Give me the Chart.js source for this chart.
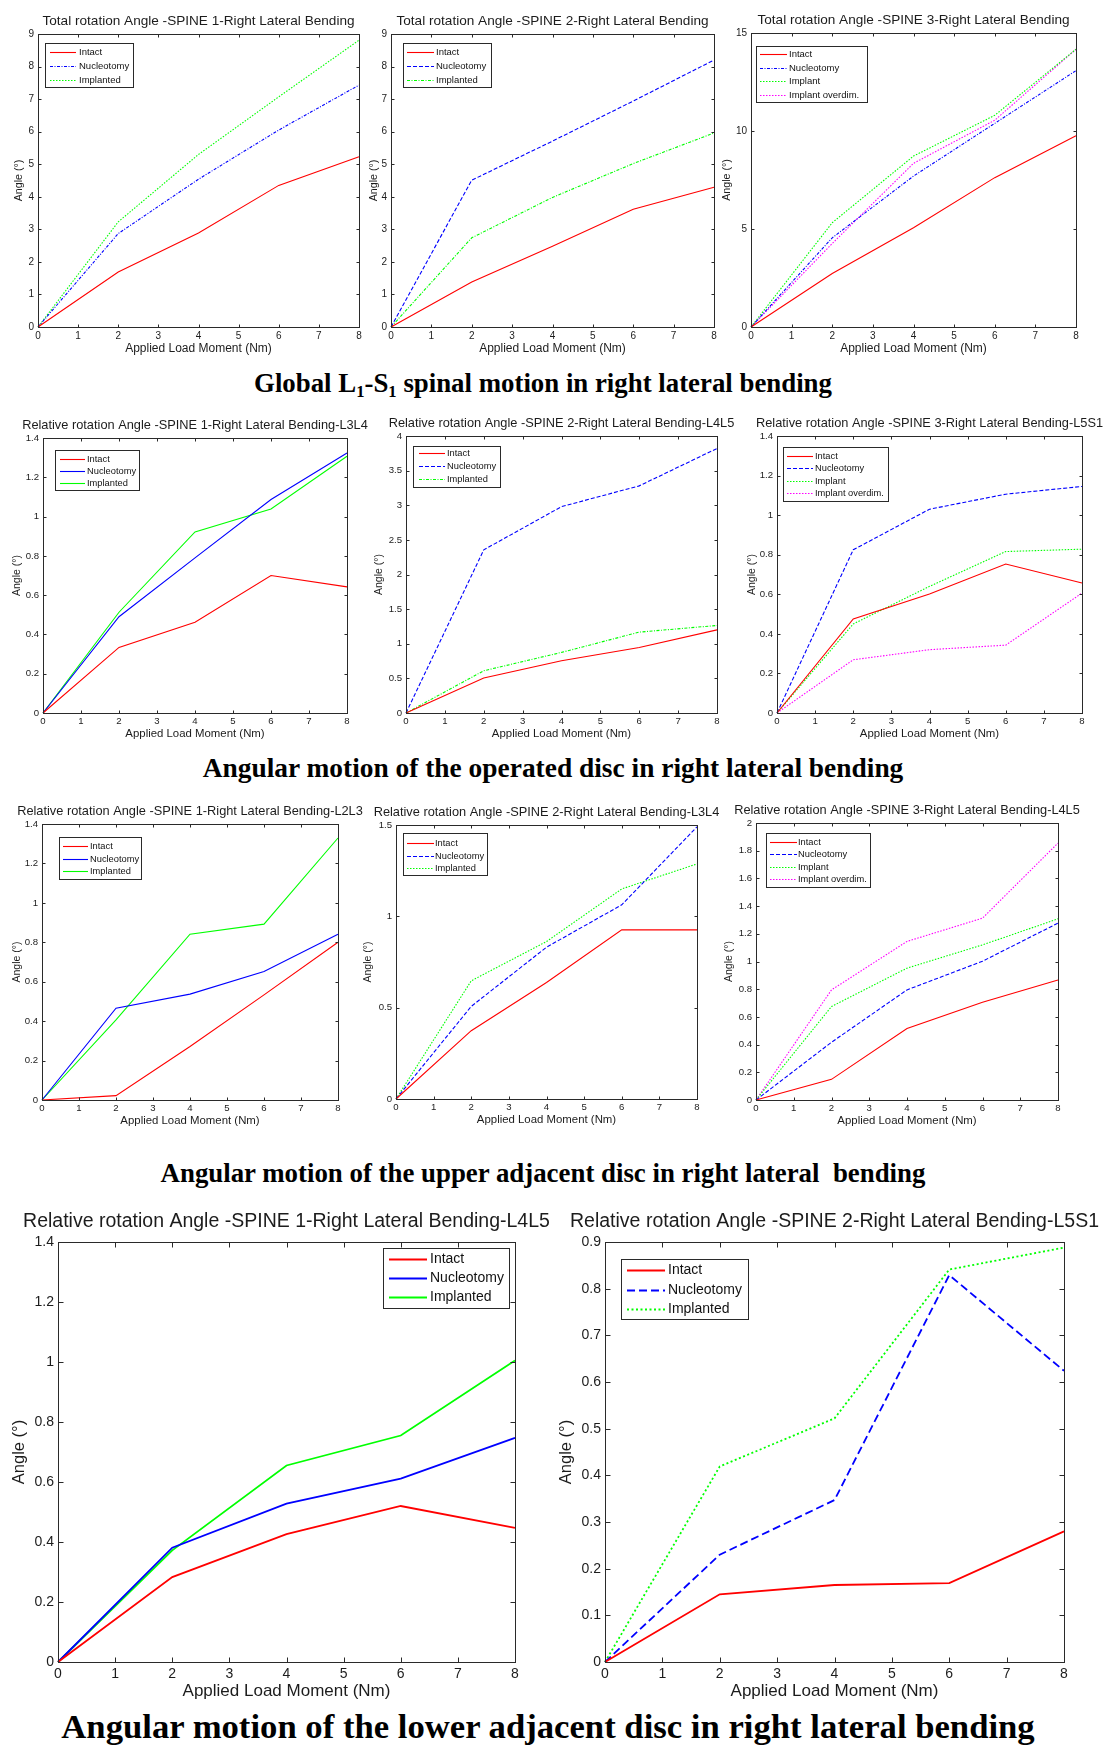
<!DOCTYPE html>
<html><head><meta charset="utf-8">
<script src="https://cdn.jsdelivr.net/npm/chart.js@4.4.1/dist/chart.umd.min.js"></script>
<style>
html,body{margin:0;padding:0;background:#fff}
body{position:relative;width:1105px;height:1745px;overflow:hidden}
canvas{position:absolute}
.cap{position:absolute;font-family:"Liberation Serif","Times New Roman",serif;font-weight:bold;white-space:pre;color:#000;line-height:1;transform:translate(-50%,-50%)}
.cap sub{font-size:0.62em;vertical-align:-0.3em;line-height:0}
</style></head><body>
<div class="cap" data-w="578" style="left:543px;top:383px">Global L<sub>1</sub>-S<sub>1</sub> spinal motion in right lateral bending</div>
<div class="cap" data-w="701" style="left:553px;top:769px">Angular motion of the operated disc in right lateral bending</div>
<div class="cap" data-w="765" style="left:543px;top:1173px">Angular motion of the upper adjacent disc in right lateral  bending</div>
<div class="cap" data-w="974" style="left:548px;top:1727px">Angular motion of the lower adjacent disc in right lateral bending</div>
<script>
// ---------- DATA ----------
const moment = [0, 2, 4, 6, 8];
const momentTicks = [0, 1, 2, 3, 4, 5, 6, 7, 8];
const momentTickLabels = ['0', '1', '2', '3', '4', '5', '6', '7', '8'];
const xTitle = 'Applied Load Moment (Nm)';
const yTitle = 'Angle (°)';

const yTicks9 = [0, 1, 2, 3, 4, 5, 6, 7, 8, 9];
const yLabels9 = ['0', '1', '2', '3', '4', '5', '6', '7', '8', '9'];
const yTicks15 = [0, 5, 10, 15];
const yLabels15 = ['0', '5', '10', '15'];
const yTicks1p4 = [0, 0.2, 0.4, 0.6, 0.8, 1, 1.2, 1.4];
const yLabels1p4 = ['0', '0.2', '0.4', '0.6', '0.8', '1', '1.2', '1.4'];
const yTicks4 = [0, 0.5, 1, 1.5, 2, 2.5, 3, 3.5, 4];
const yLabels4 = ['0', '0.5', '1', '1.5', '2', '2.5', '3', '3.5', '4'];
const yTicks1p5 = [0, 0.5, 1, 1.5];
const yLabels1p5 = ['0', '0.5', '1', '1.5'];
const yTicks2 = [0, 0.2, 0.4, 0.6, 0.8, 1, 1.2, 1.4, 1.6, 1.8, 2];
const yLabels2 = ['0', '0.2', '0.4', '0.6', '0.8', '1', '1.2', '1.4', '1.6', '1.8', '2'];
const yTicks0p9 = [0, 0.1, 0.2, 0.3, 0.4, 0.5, 0.6, 0.7, 0.8, 0.9];
const yLabels0p9 = ['0', '0.1', '0.2', '0.3', '0.4', '0.5', '0.6', '0.7', '0.8', '0.9'];

// Global L1-S1 (total rotation)
const totalS1Intact     = [0, 1.69, 2.89, 4.35, 5.23];
const totalS1Nucleotomy = [0, 2.87, 4.54, 6.05, 7.43];
const totalS1Implanted  = [0, 3.23, 5.30, 7.07, 8.81];
const totalS2Intact     = [0, 1.38, 2.48, 3.62, 4.29];
const totalS2Nucleotomy = [0, 4.51, 5.71, 6.94, 8.20];
const totalS2Implanted  = [0, 2.74, 3.98, 5.02, 5.96];
const totalS3Intact     = [0, 2.73, 5.06, 7.62, 9.76];
const totalS3Nucleotomy = [0, 4.55, 7.70, 10.39, 13.08];
const totalS3Implant    = [0, 5.32, 8.72, 10.80, 14.17];
const totalS3Overdim    = [0, 4.26, 8.35, 10.55, 14.17];

// Operated disc
const opS1Intact     = [0, 0.334, 0.462, 0.700, 0.642];
const opS1Nucleotomy = [0, 0.490, 0.790, 1.087, 1.324];
const opS1Implanted  = [0, 0.513, 0.922, 1.039, 1.307];
const opS2Intact     = [0, 0.505, 0.755, 0.947, 1.200];
const opS2Nucleotomy = [0, 2.356, 2.980, 3.280, 3.820];
const opS2Implanted  = [0, 0.610, 0.875, 1.168, 1.264];
const opS3Intact     = [0, 0.475, 0.601, 0.753, 0.657];
const opS3Nucleotomy = [0, 0.825, 1.030, 1.106, 1.145];
const opS3Implant    = [0, 0.450, 0.640, 0.816, 0.828];
const opS3Overdim    = [0, 0.269, 0.320, 0.343, 0.606];

// Upper adjacent disc
const upS1Intact     = [0, 0.022, 0.271, 0.533, 0.800];
const upS1Nucleotomy = [0, 0.466, 0.537, 0.652, 0.841];
const upS1Implanted  = [0, 0.406, 0.841, 0.892, 1.329];
const upS2Intact     = [0, 0.374, 0.638, 0.926, 0.926];
const upS2Nucleotomy = [0, 0.507, 0.831, 1.063, 1.490];
const upS2Implanted  = [0, 0.647, 0.862, 1.150, 1.287];
const upS3Intact     = [0, 0.149, 0.516, 0.706, 0.867];
const upS3Nucleotomy = [0, 0.417, 0.795, 1.002, 1.277];
const upS3Implant    = [0, 0.675, 0.952, 1.120, 1.308];
const upS3Overdim    = [0, 0.795, 1.145, 1.313, 1.855];

// Lower adjacent disc
const lowS1Intact     = [0, 0.283, 0.426, 0.520, 0.447];
const lowS1Nucleotomy = [0, 0.381, 0.528, 0.611, 0.747];
const lowS1Implanted  = [0, 0.372, 0.655, 0.755, 1.005];
const lowS2Intact     = [0, 0.145, 0.165, 0.169, 0.280];
const lowS2Nucleotomy = [0, 0.230, 0.347, 0.829, 0.624];
const lowS2Implanted  = [0, 0.419, 0.522, 0.841, 0.888];

// ---------- STYLES / LAYOUT ----------
const FF = '"Liberation Sans", Arial, Helvetica, sans-serif';
const RED = '#ff0000', BLUE = '#0000ff', GREEN = '#00ff00', MAG = '#ff00ff';
const SOLID = [], DASH = [4, 2], DOT = [1.5, 1.5], DASHDOT = [3, 1.5, 1, 1.5];

const row1 = {fTitle: 13.6, fLabel: 12, fY: 10.7, fTick: 10, tl: 3, lw: 1.1, oTitle: 13, oX: 22, xPad: 3, yPad: 4};
const row23 = {fTitle: 12.8, fLabel: 11.4, fY: 10.5, fTick: 9.6, tl: 3, lw: 1.1, oTitle: 13, oX: 21, xPad: 3, yPad: 4};
const row4 = {fTitle: 19.5, fLabel: 17, fY: 16.5, fTick: 14, tl: 5, lw: 1.8, oTitle: 20, oX: 29, xPad: 4, yPad: 4};

const specs = [
  {st: row1, title: 'Total rotation Angle -SPINE 1-Right Lateral Bending', plot: [38, 34, 359, 327], oY: 19,
   yMax: 9, yT: yTicks9, yL: yLabels9,
   legend: {x: 45, y: 43, w: 88, h: 44, row0: 52, dy: 14, l0: 5, l1: 31, tx: 34, font: 9.5},
   series: [['Intact', totalS1Intact, RED, SOLID], ['Nucleotomy', totalS1Nucleotomy, BLUE, DASHDOT], ['Implanted', totalS1Implanted, GREEN, DOT]]},
  {st: row1, title: 'Total rotation Angle -SPINE 2-Right Lateral Bending', plot: [391, 34, 714, 327], oY: 17,
   yMax: 9, yT: yTicks9, yL: yLabels9,
   legend: {x: 403, y: 43, w: 88, h: 44, row0: 52, dy: 14, l0: 4, l1: 31, tx: 33, font: 9.5},
   series: [['Intact', totalS2Intact, RED, SOLID], ['Nucleotomy', totalS2Nucleotomy, BLUE, DASH], ['Implanted', totalS2Implanted, GREEN, DASHDOT]]},
  {st: row1, title: 'Total rotation Angle -SPINE 3-Right Lateral Bending', plot: [751, 33, 1076, 327], oY: 24,
   yMax: 15, yT: yTicks15, yL: yLabels15,
   legend: {x: 756, y: 46, w: 111, h: 56, row0: 54, dy: 13.5, l0: 4, l1: 31, tx: 33, font: 9.5},
   series: [['Intact', totalS3Intact, RED, SOLID], ['Nucleotomy', totalS3Nucleotomy, BLUE, DASHDOT], ['Implant', totalS3Implant, GREEN, DOT], ['Implant overdim.', totalS3Overdim, MAG, DOT]]},

  {st: row23, title: 'Relative rotation Angle -SPINE 1-Right Lateral Bending-L3L4', plot: [43, 438, 347, 713], oY: 26,
   yMax: 1.4, yT: yTicks1p4, yL: yLabels1p4,
   legend: {x: 55, y: 450, w: 84, h: 40, row0: 459, dy: 12.2, l0: 5, l1: 30, tx: 32, font: 9.3},
   series: [['Intact', opS1Intact, RED, SOLID], ['Nucleotomy', opS1Nucleotomy, BLUE, SOLID], ['Implanted', opS1Implanted, GREEN, SOLID]]},
  {st: row23, title: 'Relative rotation Angle -SPINE 2-Right Lateral Bending-L4L5', plot: [406, 436, 717, 713], oY: 27,
   yMax: 4, yT: yTicks4, yL: yLabels4,
   legend: {x: 413, y: 446, w: 87, h: 41, row0: 453, dy: 13, l0: 6, l1: 32, tx: 34, font: 9.3},
   series: [['Intact', opS2Intact, RED, SOLID], ['Nucleotomy', opS2Nucleotomy, BLUE, DASH], ['Implanted', opS2Implanted, GREEN, DASHDOT]]},
  {st: row23, title: 'Relative rotation Angle -SPINE 3-Right Lateral Bending-L5S1', plot: [777, 436, 1082, 713], oY: 25,
   yMax: 1.4, yT: yTicks1p4, yL: yLabels1p4,
   legend: {x: 783, y: 447, w: 105, h: 54, row0: 456, dy: 12.4, l0: 4, l1: 30, tx: 32, font: 9.3},
   series: [['Intact', opS3Intact, RED, SOLID], ['Nucleotomy', opS3Nucleotomy, BLUE, DASH], ['Implant', opS3Implant, GREEN, DOT], ['Implant overdim.', opS3Overdim, MAG, DOT]]},

  {st: row23, title: 'Relative rotation Angle -SPINE 1-Right Lateral Bending-L2L3', plot: [42, 824, 338, 1100], oY: 25,
   yMax: 1.4, yT: yTicks1p4, yL: yLabels1p4,
   legend: {x: 59, y: 837, w: 82, h: 42, row0: 846, dy: 12.5, l0: 4, l1: 29, tx: 31, font: 9.3},
   series: [['Intact', upS1Intact, RED, SOLID], ['Nucleotomy', upS1Nucleotomy, BLUE, SOLID], ['Implanted', upS1Implanted, GREEN, SOLID]]},
  {st: row23, title: 'Relative rotation Angle -SPINE 2-Right Lateral Bending-L3L4', plot: [396, 825, 697, 1099], oY: 28,
   yMax: 1.5, yT: yTicks1p5, yL: yLabels1p5,
   legend: {x: 403, y: 833, w: 84, h: 42, row0: 843, dy: 12.5, l0: 4, l1: 31, tx: 32, font: 9.3},
   series: [['Intact', upS2Intact, RED, SOLID], ['Nucleotomy', upS2Nucleotomy, BLUE, DASH], ['Implanted', upS2Implanted, GREEN, DOT]]},
  {st: row23, title: 'Relative rotation Angle -SPINE 3-Right Lateral Bending-L4L5', plot: [756, 823, 1058, 1100], oY: 27,
   yMax: 2, yT: yTicks2, yL: yLabels2,
   legend: {x: 766, y: 833, w: 104, h: 54, row0: 842, dy: 12.3, l0: 4, l1: 31, tx: 32, font: 9.3},
   series: [['Intact', upS3Intact, RED, SOLID], ['Nucleotomy', upS3Nucleotomy, BLUE, DASH], ['Implant', upS3Implant, GREEN, DOT], ['Implant overdim.', upS3Overdim, MAG, DOT]]},

  {st: row4, title: 'Relative rotation Angle -SPINE 1-Right Lateral Bending-L4L5', plot: [58, 1242, 515, 1662], oY: 39,
   yMax: 1.4, yT: yTicks1p4, yL: yLabels1p4,
   legend: {x: 383, y: 1248, w: 126, h: 60, row0: 1259, dy: 19, l0: 6, l1: 44, tx: 47, font: 14},
   series: [['Intact', lowS1Intact, RED, SOLID], ['Nucleotomy', lowS1Nucleotomy, BLUE, SOLID], ['Implanted', lowS1Implanted, GREEN, SOLID]]},
  {st: row4, title: 'Relative rotation Angle -SPINE 2-Right Lateral Bending-L5S1', plot: [605, 1242, 1064, 1662], oY: 39,
   yMax: 0.9, yT: yTicks0p9, yL: yLabels0p9,
   legend: {x: 621, y: 1259, w: 127, h: 60, row0: 1270, dy: 19.5, l0: 6, l1: 44, tx: 47, font: 14},
   series: [['Intact', lowS2Intact, RED, SOLID], ['Nucleotomy', lowS2Nucleotomy, BLUE, [8, 4]], ['Implanted', lowS2Implanted, GREEN, [2, 2.5]]]}
];

// ---------- DRAWING ----------
function framePlugin(sp, ox, oy) {
  const st = sp.st;
  return {
    id: 'matlabFrame',
    afterDraw(chart) {
      const ctx = chart.ctx, a = chart.chartArea, xs = chart.scales.x, ys = chart.scales.y;
      ctx.save();
      ctx.strokeStyle = '#2a2a2a'; ctx.lineWidth = 1; ctx.setLineDash([]);
      const l = Math.round(a.left) + 0.5, r = Math.round(a.right) + 0.5, t = Math.round(a.top) + 0.5, b = Math.round(a.bottom) + 0.5;
      ctx.strokeRect(l, t, r - l, b - t);
      ctx.beginPath();
      xs.ticks.forEach(tk => { const p = Math.round(xs.getPixelForValue(tk.value)) + 0.5;
        ctx.moveTo(p, b); ctx.lineTo(p, b - st.tl); ctx.moveTo(p, t); ctx.lineTo(p, t + st.tl); });
      ys.ticks.forEach(tk => { const p = Math.round(ys.getPixelForValue(tk.value)) + 0.5;
        ctx.moveTo(l, p); ctx.lineTo(l + st.tl, p); ctx.moveTo(r, p); ctx.lineTo(r - st.tl, p); });
      ctx.stroke();
      ctx.fillStyle = '#1c1c1c'; ctx.textAlign = 'center'; ctx.textBaseline = 'middle';
      ctx.font = st.fTitle + 'px ' + FF;
      ctx.fillText(sp.title, (a.left + a.right) / 2, a.top - st.oTitle);
      ctx.font = st.fLabel + 'px ' + FF;
      ctx.fillText(xTitle, (a.left + a.right) / 2, a.bottom + st.oX);
      ctx.save();
      ctx.translate(a.left - sp.oY, (a.top + a.bottom) / 2); ctx.rotate(-Math.PI / 2);
      ctx.font = st.fY + 'px ' + FF; ctx.fillText(yTitle, 0, 0);
      ctx.restore();
      // legend
      const lg = sp.legend, bx = lg.x - ox, by = lg.y - oy;
      ctx.fillStyle = '#fff'; ctx.fillRect(bx, by, lg.w, lg.h);
      ctx.strokeStyle = '#2a2a2a'; ctx.lineWidth = 1;
      ctx.strokeRect(Math.round(bx) + 0.5, Math.round(by) + 0.5, lg.w, lg.h);
      chart.data.datasets.forEach((ds, i) => {
        const yy = Math.round(lg.row0 - oy + i * lg.dy) + 0.5;
        ctx.strokeStyle = ds.borderColor; ctx.lineWidth = ds.borderWidth; ctx.setLineDash(ds.borderDash || []);
        ctx.beginPath(); ctx.moveTo(bx + lg.l0, yy); ctx.lineTo(bx + lg.l1, yy); ctx.stroke();
        ctx.setLineDash([]);
        ctx.fillStyle = '#111'; ctx.textAlign = 'left'; ctx.textBaseline = 'middle';
        ctx.font = lg.font + 'px ' + FF;
        ctx.fillText(ds.label, bx + lg.tx, yy);
      });
      ctx.restore();
    }
  };
}

function makeChart(sp) {
  const M = {l: 60, t: 40, r: 50, b: 50};
  const [L, T, R, B] = sp.plot, st = sp.st;
  const w = R - L + M.l + M.r, h = B - T + M.t + M.b;
  const ox = L - M.l, oy = T - M.t;
  const cv = document.createElement('canvas');
  cv.width = w; cv.height = h;
  cv.style.left = ox + 'px'; cv.style.top = oy + 'px';
  cv.style.width = w + 'px'; cv.style.height = h + 'px';
  document.body.appendChild(cv);
  new Chart(cv, {
    type: 'line',
    data: {
      datasets: sp.series.map(([label, vals, color, dash]) => ({
        label, data: moment.map((x, i) => ({x, y: vals[i]})),
        borderColor: color, borderDash: dash, borderWidth: st.lw,
        pointRadius: 0, tension: 0, fill: false, clip: false
      }))
    },
    options: {
      responsive: false, animation: false, devicePixelRatio: 1,
      layout: {padding: {left: 0, top: M.t, right: M.r, bottom: 0}},
      plugins: {legend: {display: false}, tooltip: {enabled: false}, title: {display: false}},
      scales: {
        x: {type: 'linear', min: 0, max: 8,
            grid: {display: false, drawTicks: false}, border: {display: false},
            afterBuildTicks: sc => { sc.ticks = momentTicks.map(v => ({value: v})); },
            afterFit: sc => { sc.height = M.b; },
            ticks: {autoSkip: false, maxRotation: 0, padding: st.xPad, color: '#1c1c1c',
                    font: {family: FF, size: st.fTick}, callback: (v, i) => momentTickLabels[i]}},
        y: {type: 'linear', min: 0, max: sp.yMax,
            grid: {display: false, drawTicks: false}, border: {display: false},
            afterBuildTicks: sc => { sc.ticks = sp.yT.map(v => ({value: v})); },
            afterFit: sc => { sc.width = M.l; },
            ticks: {autoSkip: false, padding: st.yPad, color: '#1c1c1c',
                    font: {family: FF, size: st.fTick}, callback: (v, i) => sp.yL[i]}}
      }
    },
    plugins: [framePlugin(sp, ox, oy)]
  });
}

specs.forEach(makeChart);

// fit captions to their measured widths
document.querySelectorAll('.cap').forEach(el => {
  el.style.fontSize = '20px';
  const w0 = el.getBoundingClientRect().width;
  el.style.fontSize = (20 * (+el.dataset.w) / w0).toFixed(2) + 'px';
});
</script>
</body></html>
